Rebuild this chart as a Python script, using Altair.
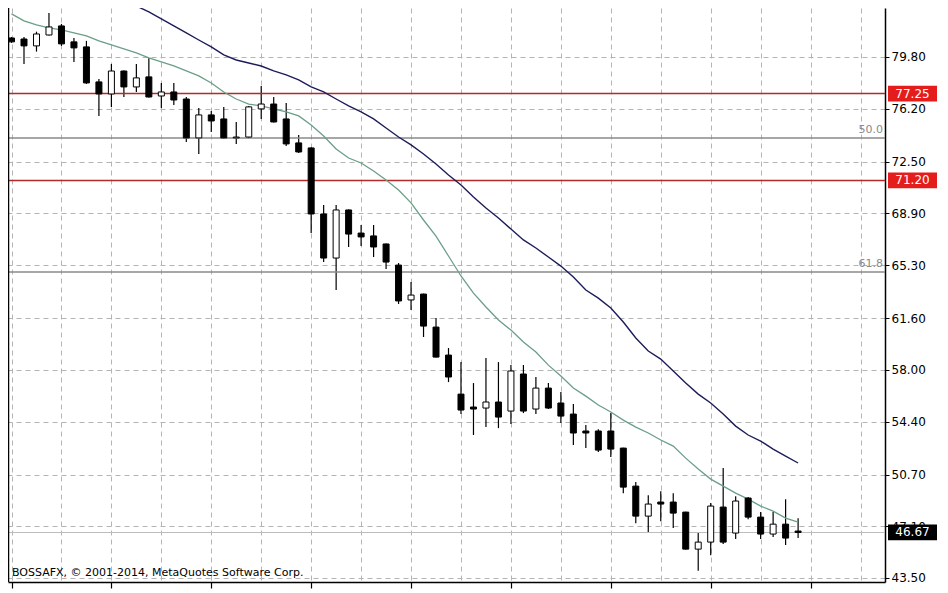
import altair as alt
import pandas as pd

# ---- candle data ----
opens = [81.12, 81.05, 80.57, 81.33, 81.96, 80.85, 80.50, 78.06, 77.22, 78.82,
         77.71, 78.41, 77.08, 77.36, 76.87, 74.16, 75.76, 75.48, 74.16, 74.22,
         76.18, 76.52, 75.48, 73.81, 73.46, 68.86, 65.79, 69.14, 67.53, 67.33,
         66.77, 65.30, 62.87, 63.28, 60.98, 59.03, 56.31, 55.41, 55.34, 55.76,
         55.13, 57.71, 55.27, 56.73, 55.69, 54.92, 53.74, 53.74, 53.74, 52.55,
         49.90, 47.81, 48.79, 48.79, 48.09, 45.51, 46.00, 48.44, 46.63, 49.07,
         47.74, 46.56, 47.25, 46.77]
highs = [81.19, 81.19, 81.56, 82.87, 82.10, 81.12, 80.92, 78.27, 79.31, 78.85,
         79.31, 79.73, 77.99, 77.99, 77.01, 76.25, 76.04, 76.32, 75.27, 76.39,
         77.78, 77.01, 76.59, 74.36, 73.50, 69.49, 69.49, 69.17, 68.09, 68.09,
         66.80, 65.44, 64.12, 63.31, 61.61, 59.52, 58.54, 57.08, 58.82, 58.54,
         58.34, 58.34, 57.50, 57.08, 56.45, 55.62, 54.15, 53.87, 54.99, 52.58,
         50.18, 49.27, 49.55, 49.41, 48.12, 46.63, 48.72, 51.16, 49.20, 49.14,
         48.09, 48.09, 48.99, 47.67]
lows = [80.78, 79.31, 80.17, 81.30, 80.57, 79.45, 77.92, 75.69, 76.32, 77.01,
        77.36, 76.98, 76.25, 76.45, 73.88, 73.04, 74.57, 74.12, 73.74, 74.14,
        75.48, 75.24, 73.60, 73.11, 67.53, 65.51, 63.56, 66.56, 66.63, 65.86,
        65.03, 62.59, 62.17, 60.29, 58.86, 57.15, 54.92, 53.46, 54.01, 53.94,
        54.22, 54.99, 54.92, 55.27, 54.29, 52.76, 52.55, 52.27, 51.92, 49.41,
        47.32, 46.63, 47.46, 46.98, 45.48, 44.00, 45.09, 45.86, 46.21, 47.60,
        46.21, 46.35, 45.79, 46.28]
closes = [80.85, 80.57, 81.40, 81.89, 80.71, 80.43, 77.99, 77.22, 78.82, 77.71,
          78.34, 77.01, 77.36, 76.80, 74.16, 75.76, 75.34, 74.16, 74.22, 76.32,
          76.52, 75.27, 73.74, 73.18, 68.86, 65.79, 69.14, 67.46, 67.26, 66.56,
          65.51, 62.80, 63.21, 61.05, 58.89, 57.50, 55.20, 55.27, 55.76, 54.71,
          57.92, 55.13, 56.73, 55.34, 54.78, 53.60, 53.60, 52.41, 52.48, 49.83,
          47.81, 48.65, 48.65, 48.02, 45.51, 46.00, 48.51, 46.00, 48.86, 47.74,
          46.56, 47.25, 46.28, 46.67]

# moving averages
ma_fast = [82.80, 82.31, 82.03, 81.82, 81.68, 81.47, 81.26, 80.92, 80.64, 80.36,
           80.08, 79.73, 79.45, 79.18, 78.83, 78.48, 77.99, 77.36, 76.87, 76.52,
           76.39, 76.18, 75.97, 75.69, 75.06, 74.29, 73.39, 72.76, 72.41, 71.85,
           71.23, 70.53, 69.63, 68.44, 67.32, 65.93, 64.54, 63.35, 62.38, 61.47,
           60.77, 59.94, 59.24, 58.33, 57.57, 56.73, 56.17, 55.55, 55.06, 54.50,
           54.01, 53.60, 53.11, 52.69, 51.85, 51.09, 50.39, 49.90, 49.41, 48.99,
           48.51, 48.16, 47.67, 47.39]
ma_slow_first_bar = 8
ma_slow = [84.30, 83.84, 83.35, 82.94, 82.45, 81.96, 81.47, 80.98, 80.50, 79.94,
           79.59, 79.38, 79.17, 78.83, 78.55, 78.20, 77.71, 77.36, 76.87, 76.39,
           75.97, 75.48, 74.85, 74.22, 73.67, 73.04, 72.34, 71.58, 70.88, 70.04,
           69.28, 68.58, 67.81, 67.05, 66.49, 65.86, 65.23, 64.47, 63.56, 63.00,
           62.31, 61.33, 60.22, 59.31, 58.75, 57.92, 57.08, 56.31, 55.69, 54.92,
           54.08, 53.46, 53.04, 52.48, 51.99, 51.51]

# horizontal levels
red_levels = [77.25, 71.20]
red_labels = ["77.25", "71.20"]
fib_levels = [74.16, 64.82]
fib_labels = ["50.0", "61.8"]
last_price = 46.67
last_label = "46.67"
y_ticks = [79.80, 76.20, 72.50, 68.90, 65.30, 61.60, 58.00, 54.40, 50.70, 47.10, 43.50]
x_grid = [0, 4, 8, 12, 16, 20, 24, 28, 32, 36, 40, 44, 48, 52, 56, 60, 64, 68]
watermark = "BOSSAFX, © 2001-2014, MetaQuotes Software Corp."

W, H = 877, 574
FONT = "DejaVu Sans"

bars = pd.DataFrame({
    "i": list(range(len(opens))),
    "o": opens, "h": highs, "l": lows, "c": closes,
})
fast = pd.DataFrame({"i": list(range(len(ma_fast))), "v": ma_fast})
slow = pd.DataFrame({"i": [ma_slow_first_bar + k for k in range(len(ma_slow))], "v": ma_slow})
reds = pd.DataFrame({"p": red_levels, "t": red_labels})
fibs = pd.DataFrame({"p": fib_levels, "t": fib_labels})
last = pd.DataFrame({"p": [last_price], "t": [last_label]})
wm = pd.DataFrame({"t": [watermark]})

xs = alt.Scale(domain=[0.119, 69.56], nice=False, zero=False)
ys = alt.Scale(domain=[43.22, 83.21], nice=False, zero=False)

x_axis = alt.Axis(values=x_grid, grid=True, ticks=True, labels=False, title=None,
                  tickSize=6, tickColor="black", tickWidth=1.2,
                  tickOpacity={"condition": {"test": "datum.value % 8 === 0", "value": 1}, "value": 0},
                  domain=True, domainColor="black", domainWidth=1.5,
                  gridColor="#b4b4b4", gridDash=[5, 4], gridWidth=1)
y_axis = alt.Axis(orient="right", values=y_ticks, format=".2f", title=None,
                  grid=True, gridColor="#b4b4b4", gridDash=[5, 4], gridWidth=1,
                  domainColor="black", domainWidth=1.5, tickColor="black", tickSize=4,
                  labelFont=FONT, labelFontSize=12, labelColor="black", labelPadding=2)

base = alt.Chart(bars)

wicks = base.mark_rule(color="black", strokeWidth=1.2, clip=True).encode(
    x=alt.X("i:Q", scale=xs, axis=x_axis),
    y=alt.Y("l:Q", scale=ys, axis=y_axis),
    y2="h:Q",
)

bodies = base.mark_bar(size=6, stroke="black", strokeWidth=1, clip=True).encode(
    x=alt.X("i:Q", scale=xs, axis=None),
    y=alt.Y("o:Q", scale=ys, axis=None),
    y2="c:Q",
    fill=alt.condition("datum.c >= datum.o", alt.value("white"), alt.value("black")),
)

fast_line = alt.Chart(fast).mark_line(color="#6a9f86", strokeWidth=1.3, clip=True).encode(
    x=alt.X("i:Q", scale=xs, axis=None), y=alt.Y("v:Q", scale=ys, axis=None))
slow_line = alt.Chart(slow).mark_line(color="#1c1c5a", strokeWidth=1.4, clip=True).encode(
    x=alt.X("i:Q", scale=xs, axis=None), y=alt.Y("v:Q", scale=ys, axis=None))

red_rules = alt.Chart(reds).mark_rule(color="#b32a2a", strokeWidth=1.5).encode(
    y=alt.Y("p:Q", scale=ys, axis=None))
fib_rules = alt.Chart(fibs).mark_rule(color="#8a8a8a", strokeWidth=1.5).encode(
    y=alt.Y("p:Q", scale=ys, axis=None))
fib_text = alt.Chart(fibs).mark_text(align="right", baseline="bottom", dy=-3,
                                     font=FONT, fontSize=11, color="#8a8a8a").encode(
    x=alt.value(W - 2), y=alt.Y("p:Q", scale=ys, axis=None), text="t:N")
last_rule = alt.Chart(last).mark_rule(color="#bdbdbd", strokeWidth=1.2).encode(
    y=alt.Y("p:Q", scale=ys, axis=None))

def price_box(df, fill):
    box = alt.Chart(df).transform_calculate(
        lo="datum.p - 0.55", hi="datum.p + 0.55"
    ).mark_rect(fill=fill, clip=False).encode(
        x=alt.value(W + 3), x2=alt.value(W + 52),
        y=alt.Y("lo:Q", scale=ys, axis=None), y2="hi:Q")
    txt = alt.Chart(df).mark_text(align="center", baseline="middle", font=FONT,
                                  fontSize=12, color="white", clip=False).encode(
        x=alt.value(W + 27.5), y=alt.Y("p:Q", scale=ys, axis=None), text="t:N")
    return [box, txt]

left_edge = alt.Chart(wm).mark_rule(color="black", strokeWidth=1.5).encode(
    x=alt.value(0.5), y=alt.value(0), y2=alt.value(H))

wm_text = alt.Chart(wm).mark_text(align="left", baseline="alphabetic", font=FONT,
                                  fontSize=11, color="black").encode(
    x=alt.value(4), y=alt.value(568), text="t:N")

layers = [wicks, red_rules, fib_rules, last_rule, fib_text, fast_line, slow_line, bodies]
layers += price_box(reds, "#e51c1c")
layers += price_box(last, "black")
layers += [left_edge, wm_text]

chart = alt.layer(*layers).resolve_axis(
    x="independent", y="independent"
).properties(
    width=W, height=H,
    autosize=alt.AutoSizeParams(type="none"),
    padding={"left": 0, "top": 0, "right": 55, "bottom": 8},
    background="white",
).configure_view(stroke=None)

chart.save("out.html", embed_options={"renderer": "svg", "actions": False})
